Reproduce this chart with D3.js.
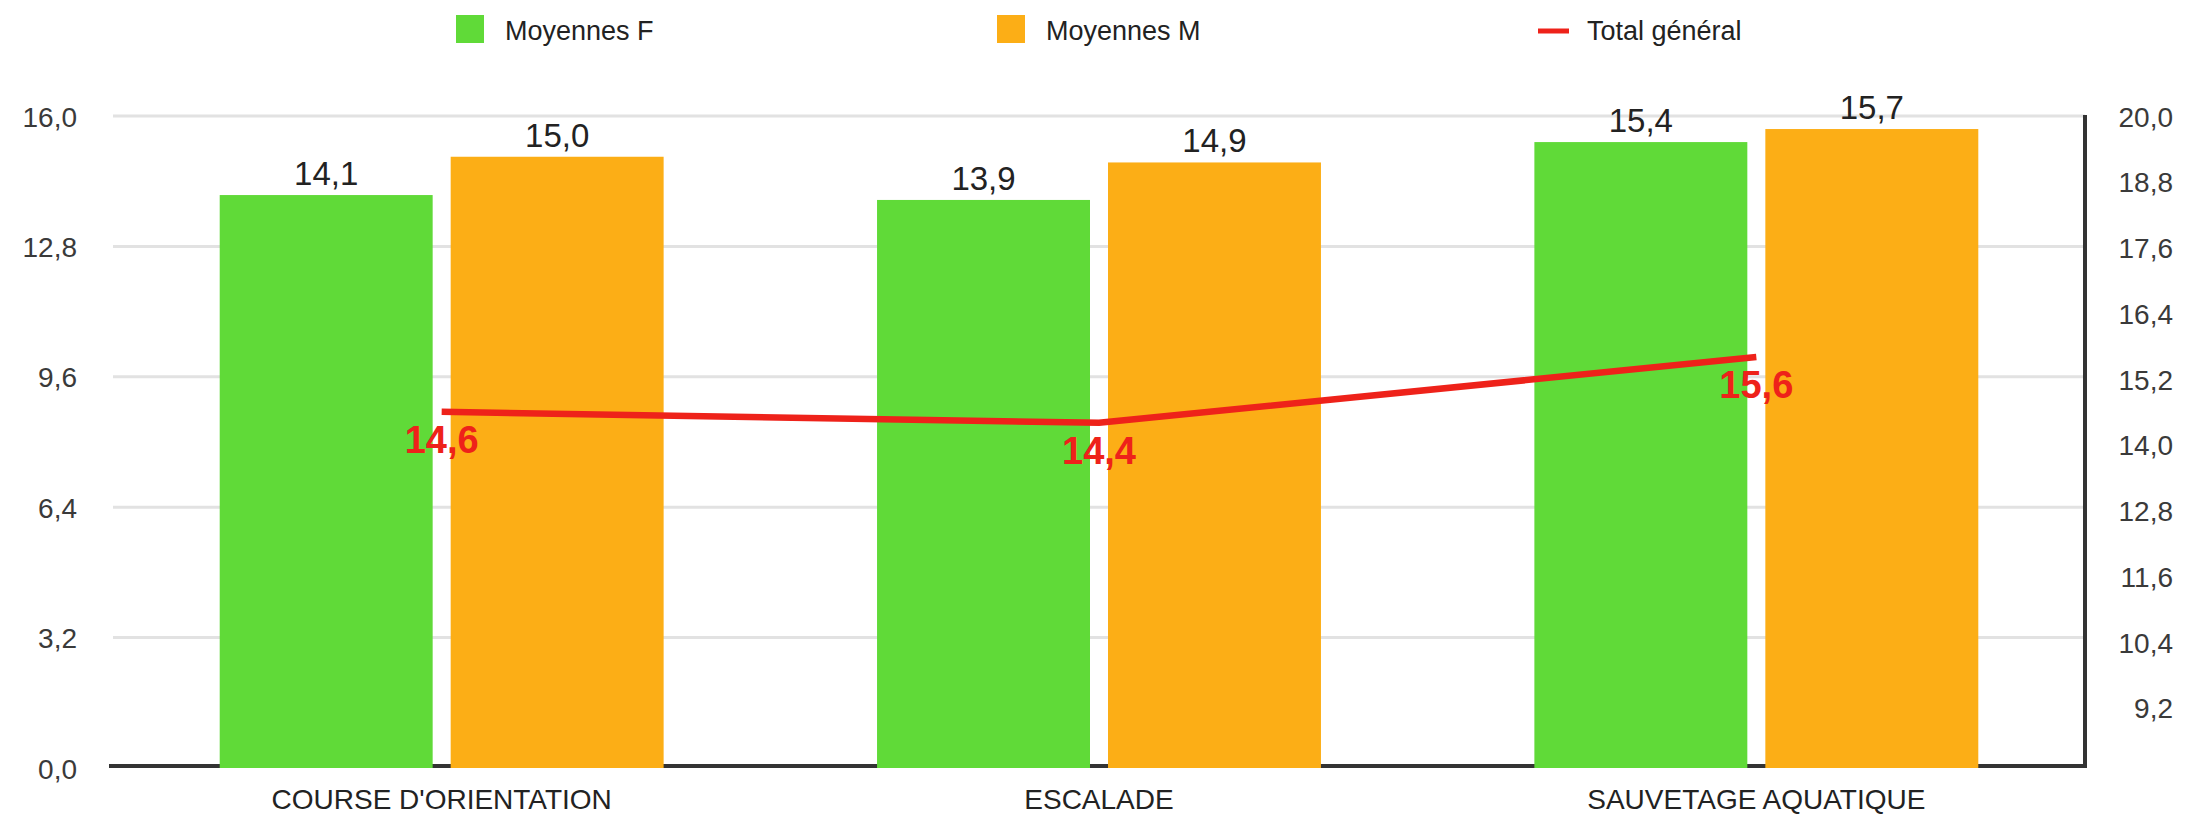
<!DOCTYPE html>
<html>
<head>
<meta charset="utf-8">
<script src="https://cdn.jsdelivr.net/npm/d3@7"></script>
<style>
  html, body { margin: 0; padding: 0; background: #ffffff; }
  svg { display: block; font-family: "Liberation Sans", Arial, Helvetica, sans-serif; }
</style>
</head>
<body>
<svg id="chart" width="2187" height="814"></svg>
<script>
// ---- data ----
const categories = ["COURSE D'ORIENTATION", "ESCALADE", "SAUVETAGE AQUATIQUE"];
const seriesNames = ["Moyennes F", "Moyennes M"];
const moyennesF = [14.06, 13.94, 15.36];
const moyennesM = [15.0, 14.86, 15.68];
const totalGeneral = [14.6, 14.4, 15.6];
const leftTicks = [0, 3.2, 6.4, 9.6, 12.8, 16.0];
const rightTicks = [9.2, 10.4, 11.6, 12.8, 14.0, 15.2, 16.4, 17.6, 18.8, 20.0];
const lineName = "Total général";

const colors = { "Moyennes F": "#60da38", "Moyennes M": "#fcae16", line: "#ee221a" };

const fr = d3.formatLocale({ decimal: ",", thousands: " ", grouping: [3], currency: ["", " €"] });
const fmt = fr.format(".1f");

const svg = d3.select("#chart");
const plotLeft = 113, plotRight = 2085, plotTop = 116, plotBottom = 768;

const x0 = d3.scaleBand().domain(categories).range([plotLeft, plotRight]).padding(0);
const x1 = d3.scaleBand().domain(seriesNames).range([0, x0.bandwidth()])
  .paddingInner(0.078).paddingOuter(0.462);
const y = d3.scaleLinear().domain([0, 16]).range([plotBottom, plotTop]);
const y2 = d3.scaleLinear().domain([8.1, 20]).range([plotBottom, plotTop]);

// gridlines
svg.append("g").selectAll("line").data(leftTicks.filter(d => d > 0)).join("line")
  .attr("x1", plotLeft).attr("x2", plotRight)
  .attr("y1", d => y(d)).attr("y2", d => y(d))
  .attr("stroke", "#e2e2e2").attr("stroke-width", 3);

// baseline
svg.append("line")
  .attr("x1", 109).attr("x2", plotRight + 2)
  .attr("y1", y(0) - 2).attr("y2", y(0) - 2)
  .attr("stroke", "#333").attr("stroke-width", 4);

// right axis line
svg.append("line")
  .attr("x1", plotRight).attr("x2", plotRight)
  .attr("y1", plotTop - 1).attr("y2", plotBottom)
  .attr("stroke", "#333").attr("stroke-width", 4);

// left axis labels
const gl = svg.append("g").attr("transform", `translate(${plotLeft},0)`)
  .call(d3.axisLeft(y).tickValues(leftTicks).tickFormat(fmt).tickSize(0).tickPadding(36));
gl.select(".domain").remove();
gl.selectAll("text").attr("font-size", 28).attr("fill", "#3a3a3a")
  .attr("font-family", "Liberation Sans, Arial, sans-serif").attr("dy", "0.36em");

// right axis labels
const gr = svg.append("g").attr("transform", `translate(${plotRight},0)`)
  .call(d3.axisRight(y2).tickValues(rightTicks).tickFormat(fmt).tickSize(0));
gr.select(".domain").remove();
gr.selectAll("text").attr("font-size", 28).attr("fill", "#3a3a3a")
  .attr("font-family", "Liberation Sans, Arial, sans-serif")
  .attr("text-anchor", "end").attr("x", 88).attr("dy", "0.36em");

// bottom category labels
const gb = svg.append("g").attr("transform", `translate(0,${plotBottom})`)
  .call(d3.axisBottom(x0).tickSize(0).tickPadding(30));
gb.select(".domain").remove();
gb.selectAll("text").attr("font-size", 28).attr("fill", "#222")
  .attr("font-family", "Liberation Sans, Arial, sans-serif").attr("dy", "0.4em");

// bars
const rows = categories.map((c, i) => ({ cat: c, vals: [
  { key: "Moyennes F", v: moyennesF[i] },
  { key: "Moyennes M", v: moyennesM[i] }
]}));

const groups = svg.append("g").selectAll("g").data(rows).join("g")
  .attr("transform", d => `translate(${x0(d.cat)},0)`);

groups.selectAll("rect").data(d => d.vals).join("rect")
  .attr("x", d => x1(d.key)).attr("width", x1.bandwidth())
  .attr("y", d => y(d.v)).attr("height", d => y(0) - y(d.v))
  .attr("fill", d => colors[d.key]);

groups.selectAll("text.val").data(d => d.vals).join("text").attr("class", "val")
  .attr("x", d => x1(d.key) + x1.bandwidth() / 2)
  .attr("y", d => y(d.v) - 10)
  .attr("text-anchor", "middle").attr("font-size", 33).attr("fill", "#222")
  .text(d => fmt(d.v));

// line
const pts = categories.map((c, i) => ({ cat: c, v: totalGeneral[i] }));
const lineGen = d3.line().x(d => x0(d.cat) + x0.bandwidth() / 2).y(d => y2(d.v));
svg.append("path").datum(pts).attr("d", lineGen)
  .attr("fill", "none").attr("stroke", colors.line).attr("stroke-width", 6.5)
  .attr("stroke-linejoin", "round");

svg.append("g").selectAll("text").data(pts).join("text")
  .attr("x", d => x0(d.cat) + x0.bandwidth() / 2)
  .attr("y", d => y2(d.v) + 41)
  .attr("text-anchor", "middle").attr("font-size", 38).attr("font-weight", "bold")
  .attr("fill", colors.line)
  .text(d => fmt(d.v));

// legend
const legendItems = [
  { name: seriesNames[0], type: "rect", color: colors["Moyennes F"], x: 456 },
  { name: seriesNames[1], type: "rect", color: colors["Moyennes M"], x: 997 },
  { name: lineName, type: "line", color: colors.line, x: 1538 }
];
const lg = svg.append("g").selectAll("g").data(legendItems).join("g")
  .attr("transform", d => `translate(${d.x},0)`);
lg.filter(d => d.type === "rect").append("rect")
  .attr("x", 0).attr("y", 15).attr("width", 28).attr("height", 28)
  .attr("fill", d => d.color);
lg.filter(d => d.type === "line").append("line")
  .attr("x1", 0).attr("x2", 31).attr("y1", 31).attr("y2", 31)
  .attr("stroke", d => d.color).attr("stroke-width", 5);
lg.append("text")
  .attr("x", 49)
  .attr("y", 31).attr("dy", "0.35em")
  .attr("font-size", 27).attr("fill", "#222")
  .text(d => d.name);
</script>
</body>
</html>
